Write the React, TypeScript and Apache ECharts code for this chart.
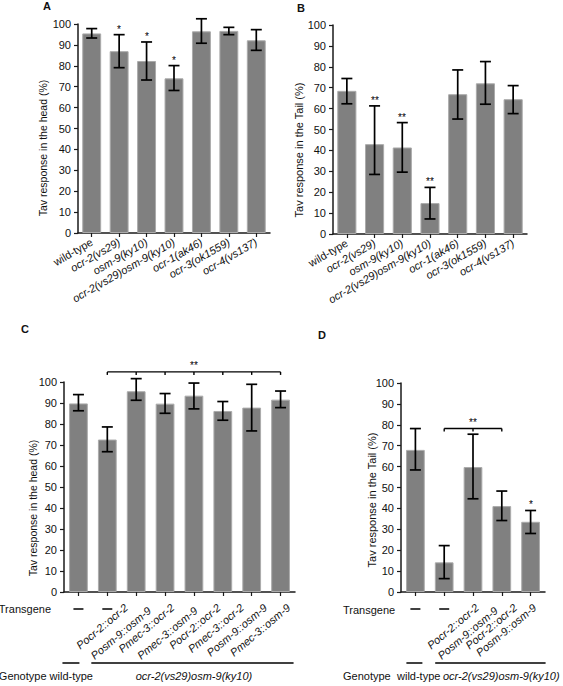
import React, { useEffect, useRef } from 'react';
import * as echarts from 'echarts';

const FONT = '"Liberation Sans", Arial, Helvetica, sans-serif';

// ---------- Panel A: head response, mutants ----------
const genotypesAB = ['wild-type', 'ocr-2(vs29)', 'osm-9(ky10)', 'ocr-2(vs29)osm-9(ky10)', 'ocr-1(ak46)', 'ocr-3(ok1559)', 'ocr-4(vs137)'];
const headA = [95.5, 87, 82.3, 74, 96.5, 96.7, 92.2];
const headALow = [93.3, 79.1, 73.2, 68.2, 90.8, 94.9, 87.4];
const headAHigh = [97.8, 94.9, 91.4, 80.1, 102.5, 98.4, 97.3];
const headASig = ['', '*', '*', '*', '', '', ''];

// ---------- Panel B: tail response, mutants ----------
const tailB = [68.5, 43, 41.4, 14.8, 66.9, 72.1, 64.5];
const tailBLow = [62.3, 28.5, 29.6, 7.2, 55, 62.1, 57.6];
const tailBHigh = [74.4, 61.3, 53.3, 22.3, 78.5, 82.5, 71];
const tailBSig = ['', '**', '**', '**', '', '', ''];

// ---------- Panel C: head response, rescue ----------
const transgeneC = ['—', '—', 'Pocr-2::ocr-2\nPosm-9::osm-9', 'Pmec-3::ocr-2\nPmec-3::osm-9', 'Pocr-2::ocr-2', 'Pmec-3::ocr-2', 'Posm-9::osm-9', 'Pmec-3::osm-9'];
const headC = [89.8, 72.6, 95.6, 89.7, 93.5, 86.2, 87.8, 91.6];
const headCLow = [86.3, 66.8, 91.3, 85.1, 87.2, 81.8, 76.7, 87.8];
const headCHigh = [94, 78.6, 101.6, 94.5, 99.5, 90.7, 98.9, 95.7];
const headCSig = ['', '', '', '', '', '', '', ''];
const bracketC = [[1, 7, 104.8]];
const bracketCLabel = '**';

// ---------- Panel D: tail response, rescue ----------
const transgeneD = ['—', '—', 'Pocr-2::ocr-2\nPosm-9::osm-9', 'Pocr-2::ocr-2', 'Posm-9::osm-9'];
const tailD = [68, 14.2, 59.8, 41.1, 33.6];
const tailDLow = [58.4, 6.4, 44.6, 34.2, 28];
const tailDHigh = [78.2, 22.2, 75.5, 48.3, 39];
const tailDSig = ['', '', '', '', '*'];
const bracketD = [[1, 3, 78.2]];
const bracketDLabel = '**';

const yTicksMin = 0;
const yTicksMax = 100;
const yTicksStep = 10;

const grids = [
  { left: 78, top: 24, width: 192, height: 209 },
  { left: 333, top: 25, width: 194, height: 209 },
  { left: 64, top: 382, width: 231, height: 210 },
  { left: 401, top: 383, width: 144, height: 209 },
];

const AXIS_COLOR = '#1a1a1a';
const TEXT_COLOR = '#111';
const BAR_COLOR = '#808080';

function richLabel(v: string) {
  if (v === '—') return '';
  if (v === 'wild-type') return `{n|${v}}`;
  return v.split('\n').map((s) => `{i|${s}}`).join('\n');
}

function xAxis(gi: number, data: string[], rotate: number, margin: number, showLabel: boolean) {
  return {
    type: 'category',
    gridIndex: gi,
    data,
    axisLine: { show: true, lineStyle: { color: AXIS_COLOR, width: 1.5 } },
    axisTick: { show: true, alignWithLabel: true, length: 4, interval: 0, lineStyle: { color: AXIS_COLOR, width: 1.2 } },
    axisLabel: {
      show: showLabel,
      interval: 0,
      rotate,
      margin,
      color: TEXT_COLOR,
      fontFamily: FONT,
      fontSize: 11,
      formatter: richLabel,
      rich: {
        n: { fontFamily: FONT, fontSize: 11, fontStyle: 'normal', color: TEXT_COLOR, lineHeight: 12 },
        i: { fontFamily: FONT, fontSize: 11, fontStyle: 'italic', color: TEXT_COLOR, lineHeight: 12 },
      },
    },
    splitLine: { show: false },
  };
}

function yAxis(gi: number) {
  return {
    type: 'value',
    gridIndex: gi,
    min: yTicksMin,
    max: yTicksMax,
    interval: yTicksStep,
    axisLine: { show: true, lineStyle: { color: AXIS_COLOR, width: 1.5 } },
    axisTick: { show: true, length: 4, lineStyle: { color: AXIS_COLOR, width: 1.2 } },
    axisLabel: { color: TEXT_COLOR, fontFamily: FONT, fontSize: 11, margin: 7 },
    splitLine: { show: false },
  };
}

const ERR_STYLE = { stroke: '#000', lineWidth: 1.7 };

function errRender(sig: string[]) {
  return (params: any, api: any) => {
    const i = api.value(0);
    const lo = api.coord([i, api.value(1)]);
    const hi = api.coord([i, api.value(2)]);
    const w = 5.5;
    const children: any[] = [
      { type: 'line', shape: { x1: lo[0], y1: lo[1], x2: hi[0], y2: hi[1] }, style: ERR_STYLE },
      { type: 'line', shape: { x1: lo[0] - w, y1: lo[1], x2: lo[0] + w, y2: lo[1] }, style: ERR_STYLE },
      { type: 'line', shape: { x1: hi[0] - w, y1: hi[1], x2: hi[0] + w, y2: hi[1] }, style: ERR_STYLE },
    ];
    const s = sig[params.dataIndex];
    if (s) {
      children.push({
        type: 'text',
        x: Math.round(hi[0]),
        y: hi[1] - 5.5,
        style: { text: s, fill: '#000', font: `10px ${FONT}`, align: 'center', verticalAlign: 'middle', textAlign: 'center', textVerticalAlign: 'middle' },
      });
    }
    return { type: 'group', children };
  };
}

function bracketRender(label: string) {
  return (_params: any, api: any) => {
    const a = api.value(0);
    const b = api.value(1);
    const lvl = api.value(2);
    const p0 = api.coord([a, lvl]);
    const p1 = api.coord([b, lvl]);
    const st = { stroke: '#000', lineWidth: 1.4 };
    const children: any[] = [{ type: 'line', shape: { x1: p0[0], y1: p0[1], x2: p1[0], y2: p1[1] }, style: st }];
    for (let k = a; k <= b; k++) {
      const p = api.coord([k, lvl]);
      children.push({ type: 'line', shape: { x1: p[0], y1: p[1], x2: p[0], y2: p[1] + 3 }, style: st });
    }
    const mid = api.coord([Math.round((a + b) / 2), lvl]);
    children.push({
      type: 'text',
      x: mid[0],
      y: mid[1] - 6,
      style: { text: label, fill: '#000', font: `10px ${FONT}`, align: 'center', verticalAlign: 'middle', textAlign: 'center', textVerticalAlign: 'middle' },
    });
    return { type: 'group', children };
  };
}

function panelSeries(gi: number, values: number[], low: number[], high: number[], sig: string[], barWidth: string) {
  return [
    {
      type: 'bar',
      xAxisIndex: gi,
      yAxisIndex: gi,
      data: values,
      barWidth,
      itemStyle: { color: BAR_COLOR, borderColor: '#ababab', borderWidth: 1 },
      silent: true,
    },
    {
      type: 'custom',
      xAxisIndex: gi,
      yAxisIndex: gi,
      data: values.map((_, k) => [k, low[k], high[k]]),
      encode: { x: 0, y: [1, 2] },
      renderItem: errRender(sig),
      itemStyle: { color: '#000' },
      silent: true,
      z: 5,
    },
  ];
}

function bracketSeries(gi: number, data: number[][], label: string) {
  return {
    type: 'custom',
    xAxisIndex: gi,
    yAxisIndex: gi,
    data,
    encode: { x: 0, y: 2 },
    renderItem: bracketRender(label),
    itemStyle: { color: '#000' },
    clip: false,
    silent: true,
    z: 6,
  };
}

function buildOption() {
  return {
    animation: false,
    backgroundColor: '#fff',
    grid: grids.map((g) => ({ ...g, containLabel: false })),
    xAxis: [
      xAxis(0, genotypesAB, 30, 8, true),
      xAxis(1, genotypesAB, 30, 8, true),
      xAxis(2, transgeneC, 40, 9, false),
      xAxis(3, transgeneD, 40, 9, false),
    ],
    yAxis: [yAxis(0), yAxis(1), yAxis(2), yAxis(3)],
    series: [
      ...panelSeries(0, headA, headALow, headAHigh, headASig, '69%'),
      ...panelSeries(1, tailB, tailBLow, tailBHigh, tailBSig, '69%'),
      ...panelSeries(2, headC, headCLow, headCHigh, headCSig, '65%'),
      ...panelSeries(3, tailD, tailDLow, tailDHigh, tailDSig, '65%'),
      bracketSeries(2, bracketC, bracketCLabel),
      bracketSeries(3, bracketD, bracketDLabel),
    ],
  };
}

function txt(x: number, y: number, text: string, o: { size?: number; style?: string; weight?: string; align?: string; rot?: number } = {}) {
  const align = o.align || 'left';
  return {
    type: 'text',
    x,
    y,
    rotation: o.rot || 0,
    silent: true,
    style: {
      text,
      fill: TEXT_COLOR,
      font: `${o.style || 'normal'} ${o.weight || 'normal'} ${o.size || 11}px ${FONT}`,
      align,
      verticalAlign: 'middle',
      textAlign: align,
      textVerticalAlign: 'middle',
    },
  };
}

function hline(x1: number, x2: number, y: number, w = 1.5) {
  return { type: 'line', silent: true, shape: { x1, y1: y, x2, y2: y }, style: { stroke: '#000', lineWidth: w } };
}

function buildGraphic(chart: any) {
  const pt = (gi: number, k: number, v: number) => chart.convertToPixel({ gridIndex: gi }, [k, v]) as number[];
  const els: any[] = [];

  // panel letters
  els.push(txt(43, 6, 'A', { weight: 'bold', size: 11 }));
  els.push(txt(297, 8, 'B', { weight: 'bold', size: 11 }));
  els.push(txt(21, 329, 'C', { weight: 'bold', size: 11 }));
  els.push(txt(318, 335, 'D', { weight: 'bold', size: 11 }));

  // y-axis titles
  els.push(txt(43, 148, 'Tav response in the head (%)', { align: 'center', rot: Math.PI / 2, size: 10.5 }));
  els.push(txt(299, 150, 'Tav response in the Tail (%)', { align: 'center', rot: Math.PI / 2, size: 11 }));
  els.push(txt(33, 508, 'Tav response in the head (%)', { align: 'center', rot: Math.PI / 2, size: 10.5 }));
  els.push(txt(372, 500, 'Tav response in the Tail (%)', { align: 'center', rot: Math.PI / 2, size: 11 }));

  // rotated transgene labels: every line (of every label) spread evenly between
  // the first and the last labelled tick, right end of each line on a common row
  const th = (40 * Math.PI) / 180;
  const rotLabels = (gi: number, labels: string[], dFirst: number, dLast: number, dy: number) => {
    const lines: { text: string; second: boolean }[] = [];
    let firstK = -1;
    let lastK = -1;
    labels.forEach((lab, k) => {
      if (lab === '—') return;
      if (firstK < 0) firstK = k;
      lastK = k;
      lab.split('\n').forEach((ln, j) => lines.push({ text: ln, second: j > 0 }));
    });
    const x0 = pt(gi, firstK, 0)[0] + dFirst;
    const x1 = pt(gi, lastK, 0)[0] + dLast;
    const y0 = pt(gi, firstK, 0)[1] + dy;
    const step = lines.length > 1 ? (x1 - x0) / (lines.length - 1) : 0;
    lines.forEach((ln, i) => {
      els.push(txt(x0 + i * step, y0 + (ln.second ? 3 : 0), ln.text, { align: 'right', rot: th, style: 'italic' }));
    });
  };
  rotLabels(2, transgeneC, -10, 8, 14);
  rotLabels(3, transgeneD, 4, 4, 14);

  // Transgene rows
  const base2 = pt(2, 0, 0);
  const base3 = pt(3, 0, 0);
  els.push(txt(51, base2[1] + 17, 'Transgene', { align: 'right' }));
  els.push(txt(343, base3[1] + 18, 'Transgene'));
  transgeneC.forEach((t, k) => {
    if (t === '—') {
      const p = pt(2, k, 0);
      els.push(hline(p[0] - 5, p[0] + 5, p[1] + 17, 1.5));
    }
  });
  transgeneD.forEach((t, k) => {
    if (t === '—') {
      const p = pt(3, k, 0);
      els.push(hline(p[0] - 5, p[0] + 5, p[1] + 17, 1.5));
    }
  });

  // Genotype rows
  const c0 = pt(2, 0, 0);
  const c1 = pt(2, 1, 0);
  const cN = pt(2, transgeneC.length - 1, 0);
  const gyC = c0[1] + 71;
  els.push(hline(c0[0] - 16, c0[0] + 1, gyC));
  els.push(hline(c1[0] - 16, cN[0] + 13, gyC));
  els.push(txt(93, gyC + 13, 'Genotype wild-type', { align: 'right' }));
  els.push(txt((c1[0] + cN[0]) / 2, gyC + 13, 'ocr-2(vs29)osm-9(ky10)', { align: 'center', style: 'italic' }));

  const d0 = pt(3, 0, 0);
  const d1 = pt(3, 1, 0);
  const dN = pt(3, transgeneD.length - 1, 0);
  const gyD = d0[1] + 71;
  els.push(hline(d0[0] - 9, d0[0] + 7, gyD));
  els.push(hline(d1[0] - 9, dN[0] + 15, gyD));
  els.push(txt(343, gyD + 13, 'Genotype'));
  els.push(txt(397, gyD + 13, 'wild-type'));
  els.push(txt(443, gyD + 13, 'ocr-2(vs29)osm-9(ky10)', { style: 'italic' }));

  return els;
}

export default function App() {
  const ref = useRef<HTMLDivElement>(null);
  useEffect(() => {
    const el = ref.current;
    if (!el) return;
    const chart = echarts.init(el, null, { renderer: 'svg' });
    chart.setOption(buildOption() as any);
    chart.setOption({ graphic: buildGraphic(chart) } as any);
    return () => chart.dispose();
  }, []);
  return (
    <div
      ref={ref}
      style={{ position: 'absolute', left: 0, top: 0, width: 563, height: 686, background: '#fff' }}
    />
  );
}
